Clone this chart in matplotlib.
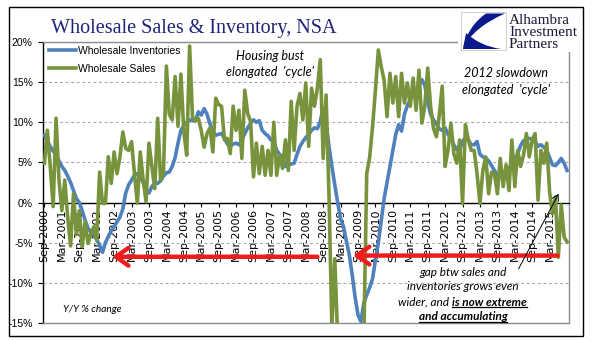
import matplotlib
matplotlib.use('Agg')
import matplotlib.pyplot as plt
import numpy as np
import pandas as pd
from matplotlib.patches import Rectangle, PathPatch
from matplotlib.path import Path
from matplotlib.lines import Line2D

# ---------------- data ----------------
months = pd.date_range('2000-09-01', periods=181, freq='MS')

inventories = [
    8.4, 7.6, 7.0, 6.4, 6.0, 5.2, 4.5, 4.0, 3.3, 2.5,
    1.5, 0.5, 0.0, -1.0, -2.2, -3.2, -3.7, -4.0, -4.6, -5.3,
    -6.2, -5.0, -4.2, -3.5, -3.0, -2.4, -1.8, -0.8, 1.2, 2.2,
    2.8, 3.4, 3.6, 3.2, 2.5, 1.6, 1.2, 2.0, 2.4, 2.4,
    2.7, 3.3, 3.7, 3.8, 4.5, 5.6, 7.4, 9.0, 9.6, 10.0,
    10.3, 10.2, 10.2, 11.3, 10.9, 11.7, 11.0, 9.8, 8.8, 8.4,
    8.5, 8.6, 8.0, 7.3, 7.0, 7.3, 7.4, 7.2, 7.8, 8.6,
    9.3, 9.9, 10.3, 10.0, 10.2, 9.0, 8.6, 8.3, 7.8, 7.6,
    6.5, 6.0, 5.7, 4.5, 4.7, 4.8, 4.9, 6.0, 7.0, 7.6,
    8.1, 8.5, 9.0, 9.3, 9.2, 10.1, 11.8, 10.0, 7.0, 4.5,
    2.2, 0.0, -2.0, -3.0, -4.8, -6.5, -9.0, -11.8, -14.0, -14.8,
    -12.5, -11.5, -10.6, -9.5, -7.2, -5.0, -2.2, 0.5, 2.5, 4.5,
    6.5, 8.5, 9.7, 8.9, 11.0, 12.1, 12.8, 13.4, 14.0, 14.6,
    15.3, 14.6, 12.6, 11.0, 10.3, 9.8, 9.2, 9.0, 9.3, 8.5,
    7.9, 7.2, 6.6, 6.5, 7.6, 8.1, 7.8, 7.2, 7.2, 7.6,
    6.0, 5.7, 5.5, 5.2, 4.6, 4.0, 3.4, 3.8, 3.7, 3.5,
    4.2, 4.8, 5.4, 6.1, 7.1, 7.7, 7.9, 8.0, 7.9, 7.7,
    7.0, 7.2, 6.9, 6.5, 5.6, 4.7, 4.6, 5.0, 5.5, 4.9,
    4.0,
]

sales = [
    4.9, 9.0, 4.5, -0.5, 10.5, 2.8, -1.0, 2.8, -1.8, -5.4,
    1.1, -4.0, -1.0, -5.5, -2.4, -5.1, -3.9, -3.0, -4.7, 3.8,
    -0.1, -0.1, 5.7, 2.4, 6.3, 3.6, 5.7, 8.8, 6.75, 6.5,
    7.6, 3.6, -0.1, 6.3, 2.8, 0.1, 7.4, 4.5, 1.75, 10.5,
    2.8, 3.8, 17.0, 11.0, 10.3, 15.7, 9.5, 16.0, 8.8, 5.9,
    19.5, 10.6, 10.2, 10.5, 9.0, 6.9, 8.6, 9.3, 6.3, 13.0,
    12.2, 12.0, 7.8, 8.0, 6.1, 12.0, 9.0, 11.5, 5.5, 14.0,
    11.1, 10.1, 3.2, 7.4, 3.6, 7.0, 3.4, 6.5, 3.4, 10.0,
    3.4, 5.9, 4.25, 7.8, 4.0, 12.6, 6.5, 12.0, 13.6, 10.3,
    14.9, 7.0, 14.25, 12.0, 14.25, 17.8, 5.5, 13.4, 1.0, -15.5,
    -7.0, -17.0, -19.0, -21.0, -22.0, -23.0, -22.0, -21.0, -20.0, -19.0,
    -17.0, 3.6, 5.6, 9.4, 14.0, 19.0, 16.9, 15.25, 10.7, 16.1,
    12.4, 15.7, 10.7, 16.1, 12.4, 14.9, 12.0, 15.5, 11.5, 16.5,
    9.9, 12.0, 16.75, 12.0, 9.25, 8.2, 10.9, 14.5, 4.5, 6.5,
    9.9, 6.1, 4.9, 7.8, -0.1, 9.7, 7.8, 6.5, 6.5, 3.6,
    -0.1, 4.0, 5.7, 1.1, 3.8, 3.6, 1.1, 5.5, 2.0, 4.7,
    1.5, 7.8, 2.0, 6.5, 4.5, 5.9, 8.6, 5.7, 7.8, 8.6,
    0.3, 6.5, 4.9, 7.4, 1.3, -1.4, 0.7, -6.8, -0.3, -4.3,
    -4.9,
]

series_names = ['Wholesale Inventories', 'Wholesale Sales']
y_ticks = [-15, -10, -5, 0, 5, 10, 15, 20]
x_tick_idx = list(range(0, 175, 6))
x_tick_labels = [months[i].strftime('%b-%Y') for i in x_tick_idx]

# ---------------- figure ----------------
W, H = 596, 341
def fx(x): return x / W
def fy(y): return 1 - y / H

fig = plt.figure(figsize=(W / 100, H / 100), dpi=100)
fig.patch.set_facecolor('white')

L, R, T, B = 43, 568.5, 42, 323
ax = fig.add_axes([fx(L), fy(B), (R - L) / W, (B - T) / H])
ax.set_facecolor('none')

x = np.arange(len(months))
ax.plot(x, inventories, color='#4F81BD', lw=2.6, zorder=3,
        solid_joinstyle='round', label=series_names[0])
ax.plot(x, sales, color='#77933C', lw=2.6, zorder=4,
        solid_joinstyle='round', label=series_names[1])

ax.set_xlim(-0.5, len(months) - 0.5)
ax.set_ylim(-15, 20)

# y axis
ax.set_yticks(y_ticks)
ax.set_yticklabels([f'{v}%' for v in y_ticks])
ax.yaxis.grid(True, linestyle=(0, (2.5, 2.5)), color='#A6A6A6', lw=0.8)
ax.set_axisbelow(True)
ax.tick_params(axis='y', direction='out', length=3.5, width=0.8, pad=4,
               color='black', labelsize=7.5)
for lbl in ax.get_yticklabels():
    lbl.set_fontfamily('Liberation Sans')

# x axis
ax.set_xticks(x_tick_idx)
ax.set_xticklabels(x_tick_labels)
ax.tick_params(axis='x', direction='out', length=3, width=0.8, pad=1.5,
               color='black', labelrotation=90, labelsize=8)
for lbl in ax.get_xticklabels():
    lbl.set_fontfamily('Liberation Serif')
    lbl.set_rotation(90)
    lbl.set_va('top')
    lbl.set_ha('center')

# spines
ax.spines['bottom'].set_position(('data', 0))
ax.spines['bottom'].set_color('black')
ax.spines['bottom'].set_linewidth(1.0)
ax.spines['left'].set_color('black')
ax.spines['left'].set_linewidth(1.0)
for s in ['top', 'right']:
    ax.spines[s].set_color('#8C8C8C')
    ax.spines[s].set_linewidth(1.0)
ax.axhline(-15, color='#8C8C8C', lw=1.0, clip_on=False, zorder=2.6)

# legend
leg = ax.legend(loc='upper left', bbox_to_anchor=(fx(49), fy(46)),
                bbox_transform=fig.transFigure, frameon=False,
                prop={'family': 'Liberation Sans', 'size': 7.5},
                handlelength=2.6, handletextpad=0.15, labelspacing=0.75,
                borderpad=0, borderaxespad=0)

# title
fig.text(fx(51), fy(33), 'Wholesale Sales & Inventory, NSA',
         fontfamily='Liberation Serif', fontsize=14.5, color='#1F2478',
         va='baseline', ha='left')

# outer border
fig.add_artist(Rectangle((fx(9), fy(336)), (583 - 9) / W, (336 - 7) / H,
                         transform=fig.transFigure, fill=False,
                         ec='black', lw=1.0, zorder=10))

# logo
fig.add_artist(Rectangle((fx(458), fy(52)), (581 - 458) / W, (52 - 10) / H,
                         transform=fig.transFigure, fc='white', ec='none',
                         zorder=20))
fig.add_artist(Rectangle((fx(461), fy(49.5)), (506 - 461) / W, (49.5 - 12.5) / H,
                         transform=fig.transFigure, fc='white', ec='#C8C8C8',
                         lw=0.6, zorder=21))
blue = '#0A1A8C'
v1 = [(505, 13.5), (486, 13.5), (468, 26), (463, 48), (474, 27), (505, 13.5)]
c1 = [Path.MOVETO, Path.LINETO, Path.CURVE3, Path.CURVE3, Path.CURVE3, Path.CURVE3]
p1 = Path([(fx(a), fy(b)) for a, b in v1], c1)
fig.add_artist(PathPatch(p1, transform=fig.transFigure, fc=blue, ec='none',
                         zorder=22))
v2 = [(463, 49), (501, 49), (480, 46), (466, 33), (463, 49)]
c2 = [Path.MOVETO, Path.LINETO, Path.CURVE3, Path.CURVE3, Path.LINETO]
p2 = Path([(fx(a), fy(b)) for a, b in v2], c2)
fig.add_artist(PathPatch(p2, transform=fig.transFigure, fc=blue, ec='none',
                         zorder=22))
for txt, yb in [('Alhambra', 24.5), ('Investment', 36.5), ('Partners', 48.5)]:
    fig.text(fx(509), fy(yb), txt, fontfamily='Liberation Serif', fontsize=11,
             color='#1A1A3A', va='baseline', ha='left', zorder=23)

# annotations
ital = dict(family=['Lato', 'DejaVu Sans'], style='italic', color='black')
fig.text(fx(270), fy(56), 'Housing bust', fontsize=9, ha='center', va='center',
         zorder=15, **ital)
fig.text(fx(270), fy(72), "elongated  'cycle'", fontsize=9, ha='center',
         va='center', zorder=15, **ital)
fig.text(fx(506), fy(73), '2012 slowdown', fontsize=9, ha='center', va='center',
         zorder=15, **ital)
fig.text(fx(506), fy(90), "elongated  'cycle'", fontsize=9, ha='center',
         va='center', zorder=15, **ital)
fig.text(fx(92), fy(309), 'Y/Y % change', fontsize=7.3, ha='center', va='center',
         zorder=15, **ital)

fig.text(fx(463), fy(272), 'gap btw sales and', fontsize=8.5, ha='center',
         va='center', zorder=15, **ital)
fig.text(fx(463), fy(287), 'inventories grows even', fontsize=8.5, ha='center',
         va='center', zorder=15, **ital)
t_a = fig.text(fx(449), fy(302), 'wider, and', fontsize=8.5, ha='right',
               va='center', zorder=15, **ital)
t_b = fig.text(fx(452), fy(302), 'is now extreme', fontsize=8.5, ha='left',
               va='center', weight='bold', zorder=15, **ital)
t_c = fig.text(fx(463), fy(316.5), 'and accumulating', fontsize=8.5,
               ha='center', va='center', weight='bold', zorder=15, **ital)

# arrows
ax.annotate('', xy=(23.3, -6.75), xytext=(94, -6.75),
            arrowprops=dict(arrowstyle='->,head_length=0.45,head_width=0.32',
                            color='#EE1C1C', lw=3.2, mutation_scale=20,
                            shrinkA=0, shrinkB=0), annotation_clip=False,
            zorder=6)
ax.annotate('', xy=(106.3, -6.6), xytext=(176.7, -6.6),
            arrowprops=dict(arrowstyle='->,head_length=0.45,head_width=0.32',
                            color='#EE1C1C', lw=3.2, mutation_scale=20,
                            shrinkA=0, shrinkB=0), annotation_clip=False,
            zorder=6)
ax.annotate('', xy=(177.1, 1.1), xytext=(163.3, -8.25),
            arrowprops=dict(arrowstyle='->,head_length=0.35,head_width=0.2',
                            color='black', lw=0.7, mutation_scale=12,
                            shrinkA=0, shrinkB=0), annotation_clip=False,
            zorder=6)

# underlines for the bold part
fig.canvas.draw()
r = fig.canvas.get_renderer()
for t in (t_b, t_c):
    bb = t.get_window_extent(renderer=r)
    yl = bb.y0 + 0.5
    fig.add_artist(Line2D([bb.x0 / W, bb.x1 / W], [yl / H, yl / H],
                          transform=fig.transFigure, color='black', lw=0.9,
                          zorder=15))

fig.savefig('out.png', dpi=100, facecolor='white')
